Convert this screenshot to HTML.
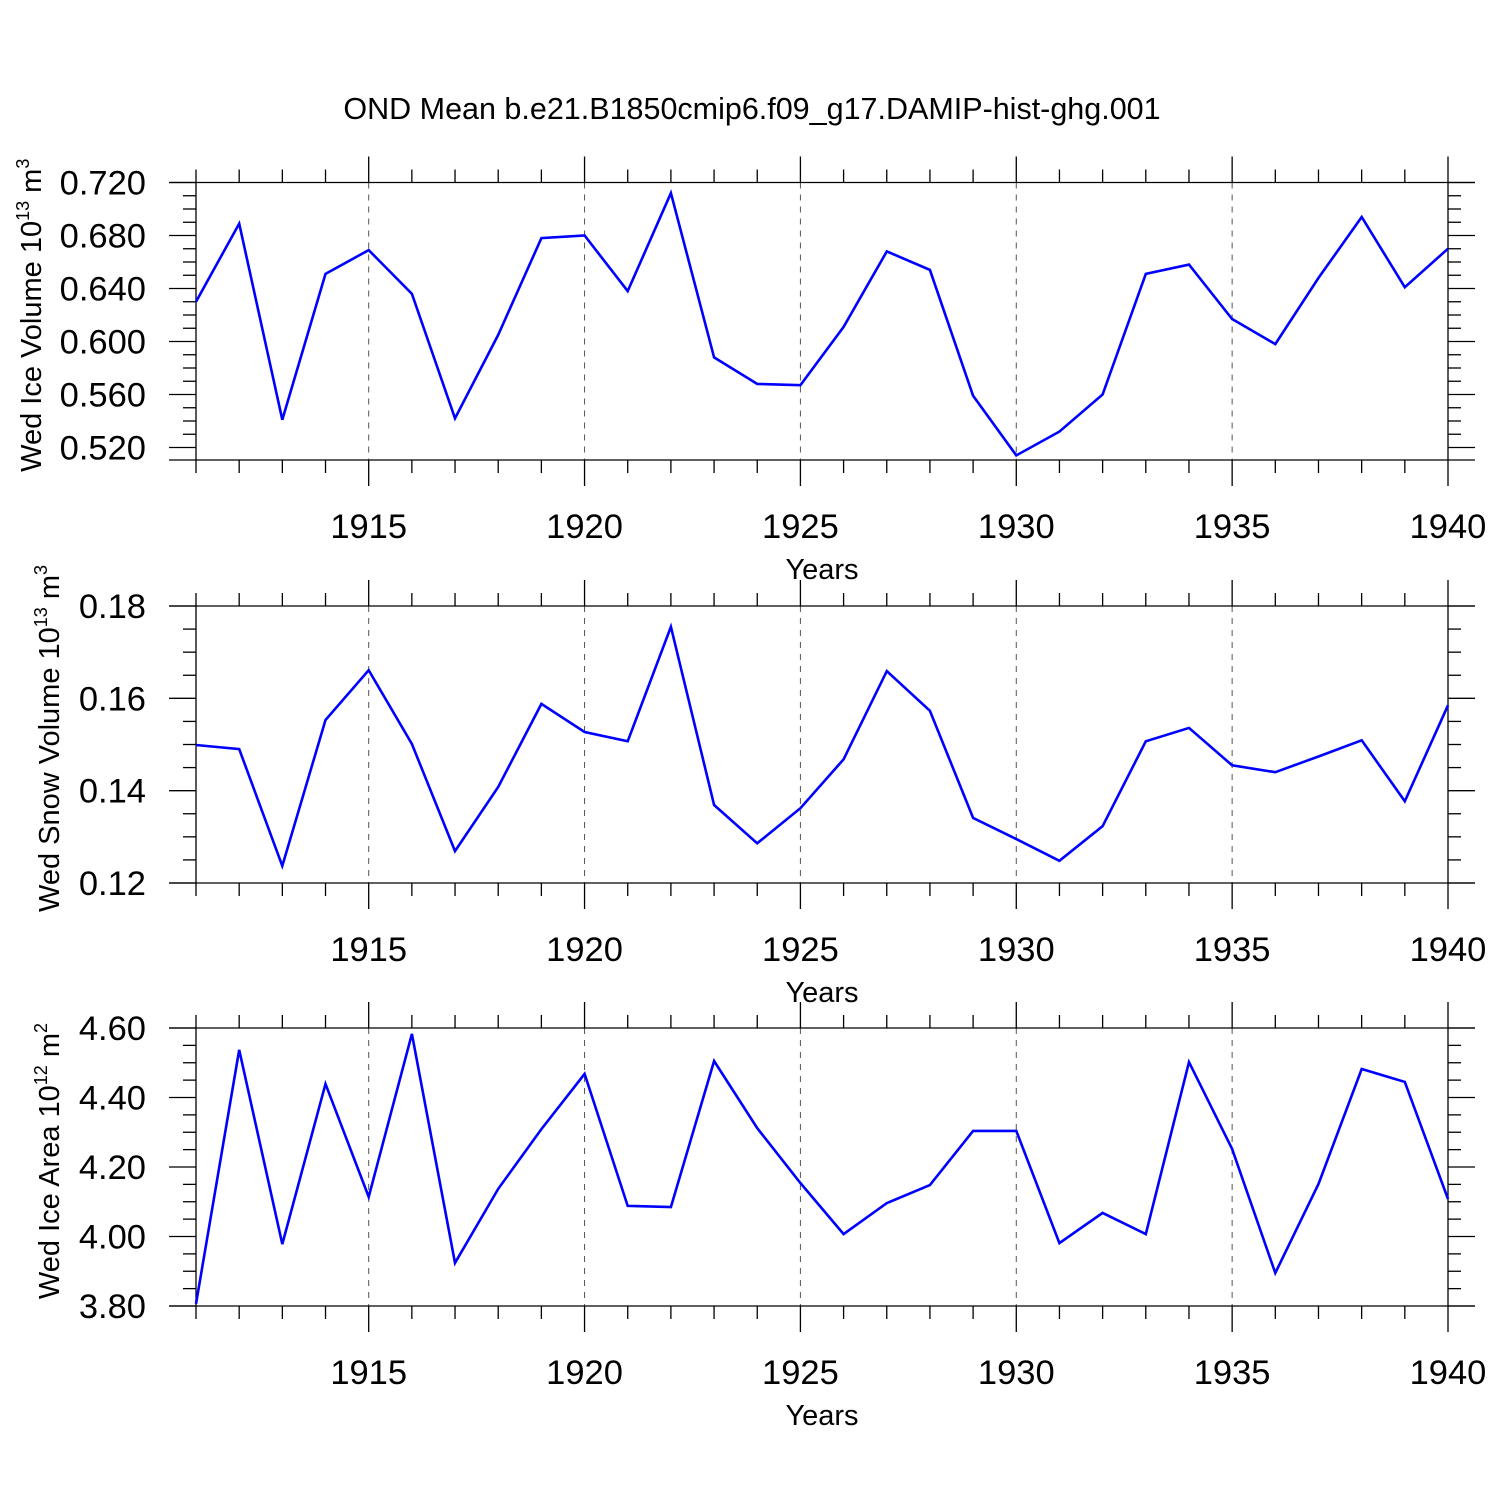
<!DOCTYPE html>
<html><head><meta charset="utf-8"><style>
html,body{margin:0;padding:0;background:#fff}
svg{display:block;font-family:"Liberation Sans",sans-serif}
</style></head><body>
<svg id="chart" width="1500" height="1500" viewBox="0 0 1500 1500">
<text x="752" y="119" font-size="30.5" text-anchor="middle">OND Mean b.e21.B1850cmip6.f09_g17.DAMIP-hist-ghg.001</text>
</svg>
<script>
const years = [1911,1912,1913,1914,1915,1916,1917,1918,1919,1920,1921,1922,1923,1924,1925,1926,1927,1928,1929,1930,1931,1932,1933,1934,1935,1936,1937,1938,1939,1940];
const iceVolume = [0.630,0.689,0.541,0.651,0.669,0.636,0.542,0.605,0.678,0.680,0.638,0.712,0.588,0.568,0.567,0.611,0.668,0.654,0.559,0.514,0.532,0.560,0.651,0.658,0.617,0.598,0.648,0.694,0.641,0.670];
const snowVolume = [0.1499,0.1490,0.1237,0.1553,0.1661,0.1501,0.1269,0.1408,0.1588,0.1527,0.1507,0.1755,0.1369,0.1286,0.1362,0.1468,0.1659,0.1573,0.1341,0.1295,0.1248,0.1323,0.1507,0.1536,0.1455,0.1440,0.1474,0.1509,0.1377,0.1585];
const iceArea = [3.806,4.537,3.978,4.439,4.114,4.583,3.924,4.137,4.309,4.468,4.088,4.085,4.505,4.312,4.154,4.007,4.096,4.148,4.304,4.304,3.981,4.068,4.007,4.502,4.252,3.895,4.151,4.482,4.445,4.108];
const xTicks = [1915,1920,1925,1930,1935,1940];
const iceVolTicks = ["0.720","0.680","0.640","0.600","0.560","0.520"];
const snowTicks = ["0.18","0.16","0.14","0.12"];
const areaTicks = ["4.60","4.40","4.20","4.00","3.80"];

const NS="http://www.w3.org/2000/svg";
const svg=document.getElementById('chart');
function mk(tag,attrs,parent){const e=document.createElementNS(NS,tag);for(const k in attrs)e.setAttribute(k,attrs[k]);(parent||svg).appendChild(e);return e;}
const X0=196,X1=1448;
const xs=y=>X0+(y-1911)*(X1-X0)/29;

const panels=[
 {name:'ice-volume',data:iceVolume,ticks:iceVolTicks,top:182.5,bot:460,ymax:0.72,ymin:0.72-277.5/1325,minor:0.01,title:'Wed Ice Volume 10',sup:'13',unit:' m',usup:'3',tx:41},
 {name:'snow-volume',data:snowVolume,ticks:snowTicks,top:606,bot:883,ymax:0.18,ymin:0.12,minor:0.005,title:'Wed Snow Volume 10',sup:'13',unit:' m',usup:'3',tx:59},
 {name:'ice-area',data:iceArea,ticks:areaTicks,top:1028,bot:1306,ymax:4.6,ymin:3.8,minor:0.05,title:'Wed Ice Area 10',sup:'12',unit:' m',usup:'2',tx:59}
];
panels.forEach(p=>{
 const g=mk('g',{});
 
 
 const ys=v=>p.bot-(v-p.ymin)*(p.bot-p.top)/(p.ymax-p.ymin);
 const st={stroke:'#000','stroke-width':1.3};
 xTicks.forEach(t=>{ if(t<1940){const l=mk('line',{x1:xs(t),x2:xs(t),y1:p.top,y2:p.bot,stroke:'#555','stroke-width':1,'stroke-dasharray':'6,6'},g);
  }});
 mk('line',Object.assign({x1:169,x2:1475,y1:p.top,y2:p.top},st),g);
 mk('line',Object.assign({x1:169,x2:1475,y1:p.bot,y2:p.bot},st),g);
 mk('line',Object.assign({x1:X0,x2:X0,y1:p.top,y2:p.bot},st),g);
 mk('line',Object.assign({x1:X1,x2:X1,y1:p.top,y2:p.bot},st),g);
 years.forEach(y=>{const maj=xTicks.includes(y);const L=maj?26:13;
  mk('line',Object.assign({x1:xs(y),x2:xs(y),y1:p.top-L,y2:p.top},st),g);
  mk('line',Object.assign({x1:xs(y),x2:xs(y),y1:p.bot,y2:p.bot+L},st),g);});
 xTicks.forEach(t=>{const tx=mk('text',{x:xs(t),y:p.bot+78,'font-size':34.5,'text-anchor':'middle'},g);tx.textContent=t;
  });
 const xt=mk('text',{x:822,y:p.bot+119,'font-size':29,'text-anchor':'middle'},g);xt.textContent='Years';
 
 const n=Math.round((p.ymax-p.ymin)/p.minor)+1;
 for(let k=0;k<=n;k++){const v=p.ymax-k*p.minor;if(v<p.ymin-1e-9)break;const yy=ys(v);
  const maj=k%4===0;const L=maj?27:13;
  mk('line',Object.assign({x1:X0-L,x2:X0,y1:yy,y2:yy},st),g);
  mk('line',Object.assign({x1:X1,x2:X1+L,y1:yy,y2:yy},st),g);}
 p.ticks.forEach(t=>{const tx=mk('text',{x:146,y:ys(parseFloat(t))+12,'font-size':34.5,'text-anchor':'end'},g);tx.textContent=t;
  });
 const cy=(p.top+p.bot)/2-6;
 const yt=mk('text',{x:0,y:0,'font-size':29,'text-anchor':'middle',transform:`translate(${p.tx},${cy}) rotate(-90)`},g);
 
 yt.appendChild(document.createTextNode(p.title));
 const s1=mk('tspan',{'font-size':18,dy:-12},yt);s1.textContent=p.sup;
 const s2=mk('tspan',{dy:12},yt);s2.textContent=p.unit;
 const s3=mk('tspan',{'font-size':18,dy:-12},yt);s3.textContent=p.usup;
 const pts=p.data.map((v,i)=>xs(years[i]).toFixed(1)+','+ys(v).toFixed(1)).join(' ');
 const pl=mk('polyline',{points:pts,fill:'none',stroke:'#0000ff','stroke-width':2.6,'stroke-linejoin':'miter'},g);
 
});
</script>
</body></html>
